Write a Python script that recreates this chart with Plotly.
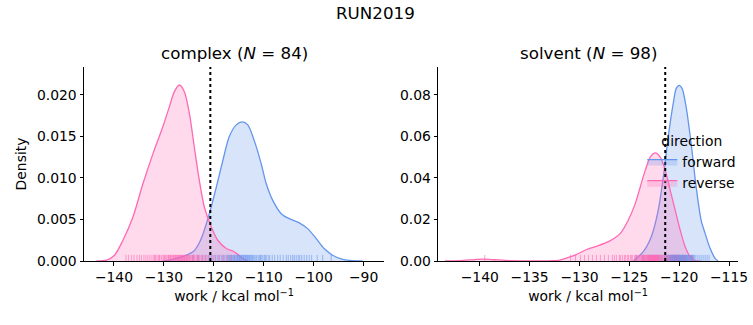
import plotly.graph_objects as go

# ---------------- data ----------------
# KDE curves (work in kcal/mol, density)
complex_rev_x = [-143.5, -141.5, -139.9, -138.2, -136.2, -134.2, -132.2, -130.2, -128.9, -127.9, -126.9,
                 -125.9, -124.9, -123.9, -122.9, -121.9, -120.5, -119.2, -117.5, -116.2, -115.2, -114.2, -113.2]
complex_rev_y = [0.0, 0.0001, 0.0007, 0.0025, 0.0053, 0.0093, 0.0129, 0.0162, 0.0186, 0.0204, 0.0212,
                 0.0204, 0.0178, 0.0137, 0.0097, 0.0065, 0.0041, 0.0025, 0.0015, 0.0012, 0.0008, 0.0003, 0.0]

complex_fwd_x = [-130.2, -128.2, -125.5, -124.0, -122.9, -122.2, -120.9, -119.5, -118.2, -116.9, -115.5, -114.3,
                 -113.2, -111.9, -110.5, -109.5, -108.2, -106.5, -104.9, -102.9, -101.2, -99.5, -97.9,
                 -96.2, -94.2, -92.2, -90.2]
complex_fwd_y = [0.0, 0.0002, 0.0007, 0.0012, 0.0022, 0.0032, 0.0057, 0.0089, 0.0121, 0.0150, 0.0164, 0.01675,
                 0.0164, 0.0145, 0.0117, 0.0093, 0.0073, 0.0057, 0.0051, 0.0046, 0.0039, 0.0027, 0.0015,
                 0.0007, 0.0002, 0.00004, 0.0]

solvent_fwd_x = [-124.6, -123.6, -122.8, -122.1, -121.5, -121.1, -120.6, -120.3, -120.0, -119.7, -119.3,
                 -118.8, -118.3, -117.8, -117.4, -116.9, -116.4, -116.1]
solvent_fwd_y = [0.0, 0.0045, 0.0117, 0.0245, 0.0437, 0.0597, 0.0757, 0.0829, 0.0845, 0.0829, 0.0740,
                 0.0565, 0.0357, 0.0197, 0.0133, 0.0061, 0.0013, 0.0]

solvent_rev_x = [-143.5, -142.0, -140.5, -139.6, -138.5, -137.0, -135.0, -133.0, -132.1, -131.4, -130.4,
                 -129.4, -128.4, -127.1, -125.9, -125.1, -124.4, -123.9, -123.4, -122.9, -122.4, -121.9,
                 -121.4, -120.9, -120.4, -119.9, -119.4, -118.9, -118.4, -117.8]
solvent_rev_y = [0.0, 0.0002, 0.0007, 0.0009, 0.0006, 0.0002, 0.0001, 0.0001, 0.0003, 0.0013, 0.0029,
                 0.0053, 0.0069, 0.0093, 0.0133, 0.0197, 0.0277, 0.0357, 0.0437, 0.0500, 0.0520, 0.0500,
                 0.0437, 0.0340, 0.0245, 0.0149, 0.0069, 0.0021, 0.0002, 0.0]

# individual work values (rug)
complex_rev_work = [-137.6, -137.1, -136.5, -136.0, -135.4, -134.9, -134.5, -134.0,
                    -133.6, -133.2, -132.8, -132.4, -132.0, -131.7, -131.4, -131.1, -130.8, -130.5,
                    -130.2, -130.0, -129.7, -129.5, -129.2, -129.0, -128.8, -128.6, -128.4, -128.2,
                    -128.0, -127.8, -127.7, -127.5, -127.3, -127.2, -127.0, -126.9, -126.7, -126.6,
                    -126.4, -126.3, -126.1, -126.0, -125.8, -125.7, -125.5, -125.4, -125.2, -125.0,
                    -124.8, -124.6, -124.4, -124.2, -124.0, -123.8, -123.5, -123.3, -123.0, -122.8,
                    -122.5, -122.2, -121.9, -121.6, -121.2, -120.8, -120.3, -119.7, -119.0, -118.2,
                    -131.9, -130.9, -129.9, -129.1, -128.7, -128.1, -127.6, -127.1, -126.5, -125.9,
                    -125.3, -124.9, -124.1, -123.2, -117.3, -116.6]
complex_fwd_work = [-124.2, -123.1, -122.3, -121.6, -121.0, -120.5, -120.0, -119.6, -119.2, -118.8,
                    -118.4, -118.1, -117.8, -117.5, -117.2, -116.9, -116.7, -116.4, -116.2, -116.0,
                    -115.8, -115.6, -115.4, -115.2, -115.0, -114.8, -114.6, -114.4, -114.2, -114.0,
                    -113.8, -113.6, -113.4, -113.2, -113.0, -112.8, -112.6, -112.4, -112.1, -111.9,
                    -111.6, -111.4, -111.1, -110.8, -110.5, -110.2, -109.9, -109.5, -109.1, -108.8,
                    -108.3, -107.8, -107.2, -106.7, -106.1, -105.5, -105.1, -104.6, -104.2, -103.9,
                    -103.5, -103.1, -102.8, -102.4, -101.9, -101.4, -100.9, -100.4, -99.3, -98.2, -96.5,
                    -117.0, -116.5, -115.9, -115.3, -114.9, -114.5, -114.1, -113.7, -113.3, -112.9,
                    -112.3, -110.7, -109.7]
solvent_fwd_work = [-124.3, -123.6, -123.1, -122.7, -122.4, -122.1, -121.9, -121.7, -121.5, -121.4,
                    -121.3, -121.2, -121.1, -121.0, -120.9, -120.85, -120.8, -120.75, -120.7, -120.65,
                    -120.6, -120.55, -120.5, -120.45, -120.4, -120.35, -120.3, -120.25, -120.2, -120.15,
                    -120.1, -120.05, -120.0, -119.95, -119.9, -119.85, -119.8, -119.75, -119.7, -119.65,
                    -119.6, -119.55, -119.5, -119.45, -119.4, -119.35, -119.3, -119.2, -119.1, -119.0,
                    -118.9, -118.8, -118.7, -118.6, -118.5, -118.4, -118.2, -118.0, -117.8, -117.6,
                    -117.4, -117.2, -117.0,
                    -121.25, -121.15, -121.05, -120.95, -120.88, -120.82, -120.72, -120.62, -120.52,
                    -120.42, -120.32, -120.22, -120.12, -120.02, -119.92, -119.82, -119.72, -119.62,
                    -119.52, -119.42, -119.32, -119.25, -119.15, -119.05, -118.95, -118.85, -118.75,
                    -118.65, -120.58, -120.48, -120.38, -120.28, -120.18, -120.08, -119.98]
solvent_rev_work = [-139.5,
                    -130.9, -130.4, -129.9, -129.5, -129.1, -128.7, -128.3, -127.9, -127.5, -127.1,
                    -126.7, -126.3, -126.0, -125.7, -125.4, -125.1, -124.9, -124.7, -124.5, -124.3,
                    -124.1, -124.0, -123.8, -123.7, -123.6, -123.5, -123.4, -123.3, -123.2, -123.1,
                    -123.0, -122.95, -122.9, -122.85, -122.8, -122.75, -122.7, -122.65, -122.6, -122.55,
                    -122.5, -122.45, -122.4, -122.35, -122.3, -122.25, -122.2, -122.15, -122.1, -122.05,
                    -122.0, -121.9, -121.8, -121.7, -121.6, -121.5, -121.4, -121.3, -121.2, -121.1,
                    -121.0, -120.8, -120.6, -120.4, -120.2, -120.0, -119.7, -119.4, -119.0, -118.6,
                    -126.5, -125.9, -125.5, -125.2, -124.8, -124.4, -124.2, -123.9, -123.75, -123.65,
                    -123.55, -123.45, -123.35, -123.25, -123.15, -123.05, -122.98, -122.88, -122.78,
                    -122.68, -122.58, -122.48, -122.38, -122.28, -122.18, -121.95, -121.75]

reference_line = [-120.7, -121.4]          # dotted vertical line (complex, solvent)
titles = ["complex (<i>N</i> = 84)", "solvent (<i>N</i> = 98)"]
suptitle = "RUN2019"
directions = ["forward", "reverse"]

# ---------------- style ----------------
BLUE = "#6495ED"
PINK = "#FF69B4"
BLUE_FILL = "rgba(100,149,237,0.25)"
PINK_FILL = "rgba(255,105,180,0.25)"
BLUE_RUG = "rgba(100,149,237,0.6)"
PINK_RUG = "rgba(255,105,180,0.6)"
FONT = "DejaVu Sans"
FS = 13.9
FT = 16.7

W, H = 753, 325
ML, MR, MT, MB = 84, 13, 67, 64
PW = W - ML - MR
PH = H - MT - MB

def px2paperx(p):
    return (p - ML) / PW

def px2papery(p):
    return (H - MB - p) / PH

fig = go.Figure()

panels = [
    dict(xa="x", ya="y", fwd=(complex_fwd_x, complex_fwd_y), rev=(complex_rev_x, complex_rev_y),
         fwork=complex_fwd_work, rwork=complex_rev_work, ymax=0.02337),
    dict(xa="x2", ya="y2", fwd=(solvent_fwd_x, solvent_fwd_y), rev=(solvent_rev_x, solvent_rev_y),
         fwork=solvent_fwd_work, rwork=solvent_rev_work, ymax=0.0933),
]

for i, p in enumerate(panels):
    for name, (cx, cy), line, fill in [(directions[0], p["fwd"], BLUE, BLUE_FILL),
                                       (directions[1], p["rev"], PINK, PINK_FILL)]:
        fig.add_trace(go.Scatter(
            x=cx, y=cy, mode="lines", line=dict(color=line, width=1.3, shape="spline", smoothing=0.8),
            fill="tozeroy", fillcolor=fill, name=name, legendgroup=name,
            showlegend=(i == 1), xaxis=p["xa"], yaxis=p["ya"], hoverinfo="skip"))
    # rug ticks: height ~5 px from the axis
    rug_y = p["ymax"] * 2.6 / PH
    for work, col in [(p["fwork"], BLUE_RUG), (p["rwork"], PINK_RUG)]:
        fig.add_trace(go.Scatter(
            x=work, y=[rug_y] * len(work), mode="markers",
            marker=dict(symbol="line-ns-open", size=5, color=col, line=dict(color=col, width=1)),
            showlegend=False, xaxis=p["xa"], yaxis=p["ya"], hoverinfo="skip"))
    fig.add_trace(go.Scatter(
        x=[reference_line[i]] * 2, y=[0, p["ymax"]], mode="lines",
        line=dict(color="black", width=2, dash="dot"),
        showlegend=False, xaxis=p["xa"], yaxis=p["ya"], hoverinfo="skip"))

axis_common = dict(showline=True, linecolor="black", linewidth=1, ticks="outside", ticklen=3.5,
                   tickwidth=0.8, tickcolor="black", showgrid=False, zeroline=False,
                   tickfont=dict(family=FONT, size=FS, color="black"), automargin=False)

xtitle = dict(text="work / kcal mol<sup>−1</sup>", font=dict(family=FONT, size=FS, color="black"), standoff=7)

fig.update_layout(
    width=W, height=H, margin=dict(l=ML, r=MR, t=MT, b=MB),
    plot_bgcolor="white", paper_bgcolor="white",
    xaxis=dict(domain=[px2paperx(84), px2paperx(385)], range=[-146.0, -85.9], dtick=10, tick0=0,
               title=xtitle, anchor="y", **axis_common),
    yaxis=dict(domain=[0, 1], range=[0, 0.02337], dtick=0.005, tickformat=".3f", anchor="x",
               title=dict(text="Density", font=dict(family=FONT, size=FS, color="black"), standoff=7),
               **axis_common),
    xaxis2=dict(domain=[px2paperx(439.3), px2paperx(740)], range=[-144.17, -114.1], dtick=5, tick0=0,
                title=xtitle, anchor="y2", **axis_common),
    yaxis2=dict(domain=[0, 1], range=[0, 0.0933], dtick=0.02, tickformat=".2f", anchor="x2",
                **axis_common),
    legend=dict(x=px2paperx(644), y=px2papery(128), xanchor="left", yanchor="top",
                bgcolor="rgba(0,0,0,0)", borderwidth=0,
                font=dict(family=FONT, size=FS, color="black"),
                title=dict(text="direction", side="top center", font=dict(family=FONT, size=FS, color="black")),
                tracegroupgap=0),
    showlegend=True,
    annotations=[
        dict(text=suptitle, x=px2paperx(376.5), y=px2papery(13), xref="paper", yref="paper",
             showarrow=False, xanchor="center", yanchor="middle", font=dict(family=FONT, size=FT, color="black")),
        dict(text=titles[0], x=px2paperx(234.5), y=px2papery(53), xref="paper", yref="paper",
             showarrow=False, xanchor="center", yanchor="middle", font=dict(family=FONT, size=FT, color="black")),
        dict(text=titles[1], x=px2paperx(589.7), y=px2papery(53), xref="paper", yref="paper",
             showarrow=False, xanchor="center", yanchor="middle", font=dict(family=FONT, size=FT, color="black")),
    ],
)

fig.write_html("out.html", config={"displayModeBar": False},
               post_script="document.body.style.margin='0px';")
